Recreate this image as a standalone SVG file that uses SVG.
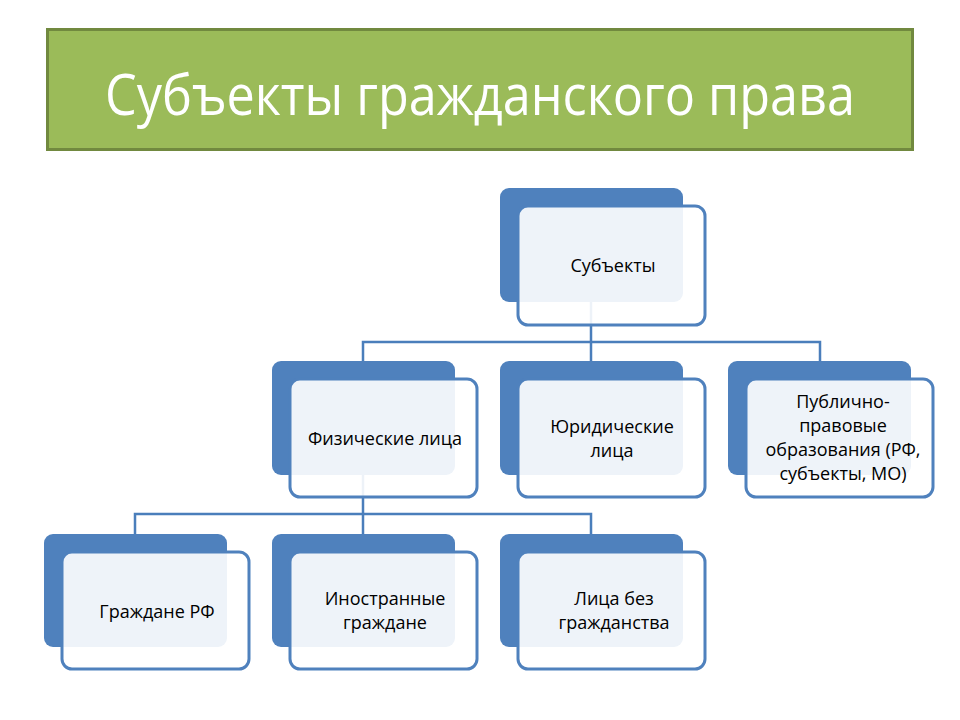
<svg xmlns="http://www.w3.org/2000/svg" width="960" height="720" viewBox="0 0 960 720">
<defs>
<style>
.back{fill:#4F81BD;}
.front{fill:#FFFFFF;fill-opacity:0.9;stroke:#4F81BD;stroke-width:3;}
.conn{fill:none;stroke:#4A7EBB;stroke-width:2.5;}
.lbl{font-family:"Open Sans","Noto Sans","Liberation Sans",sans-serif;font-size:18px;fill:#000000;text-anchor:middle;}
.title{font-family:"Open Sans","Noto Sans","Liberation Sans",sans-serif;font-size:56px;fill:#FFFFFF;}
</style>
</defs>
<rect width="960" height="720" fill="#FFFFFF"/>
<g id="title">
<rect x="47.5" y="29.5" width="865" height="120" fill="#9BBB59" stroke="#71893F" stroke-width="3"/>
<text class="title" x="105" y="115" textLength="750" lengthAdjust="spacingAndGlyphs">Субъекты гражданского права</text>
</g>
<g id="connectors">
<path class="conn" d="M591 302 V362"/>
<path class="conn" d="M363 362 V342 H820 V362"/>
<path class="conn" d="M363 475 V534"/>
<path class="conn" d="M135 534 V514 H591 V534"/>
</g>
<g id="n-subjects">
<rect class="back" x="500" y="188" width="183" height="114" rx="9"/>
<rect class="front" x="518" y="206" width="187" height="119" rx="10"/>
<text class="lbl" x="613" y="272">Субъекты</text>
</g>
<g id="n-physical">
<rect class="back" x="272" y="361" width="183" height="114" rx="9"/>
<rect class="front" x="290" y="379" width="187" height="118" rx="10"/>
<text class="lbl" x="385" y="445">Физические лица</text>
</g>
<g id="n-legal">
<rect class="back" x="500" y="361" width="183" height="114" rx="9"/>
<rect class="front" x="518" y="379" width="187" height="118" rx="10"/>
<text class="lbl" x="612" y="433">Юридические</text>
<text class="lbl" x="612" y="457">лица</text>
</g>
<g id="n-public">
<rect class="back" x="728" y="361" width="183" height="114" rx="9"/>
<rect class="front" x="746" y="379" width="187" height="118" rx="10"/>
<text class="lbl" x="843" y="408">Публично-</text>
<text class="lbl" x="843" y="432">правовые</text>
<text class="lbl" x="843" y="456">образования (РФ,</text>
<text class="lbl" x="843" y="480">субъекты, МО)</text>
</g>
<g id="n-citizens">
<rect class="back" x="44" y="534" width="183" height="113" rx="9"/>
<rect class="front" x="62" y="552" width="187" height="117" rx="10"/>
<text class="lbl" x="157" y="618">Граждане РФ</text>
</g>
<g id="n-foreign">
<rect class="back" x="272" y="534" width="183" height="113" rx="9"/>
<rect class="front" x="290" y="552" width="187" height="117" rx="10"/>
<text class="lbl" x="385" y="605">Иностранные</text>
<text class="lbl" x="385" y="629">граждане</text>
</g>
<g id="n-stateless">
<rect class="back" x="500" y="534" width="183" height="113" rx="9"/>
<rect class="front" x="518" y="552" width="187" height="117" rx="10"/>
<text class="lbl" x="614" y="605">Лица без</text>
<text class="lbl" x="614" y="629">гражданства</text>
</g>
</svg>
